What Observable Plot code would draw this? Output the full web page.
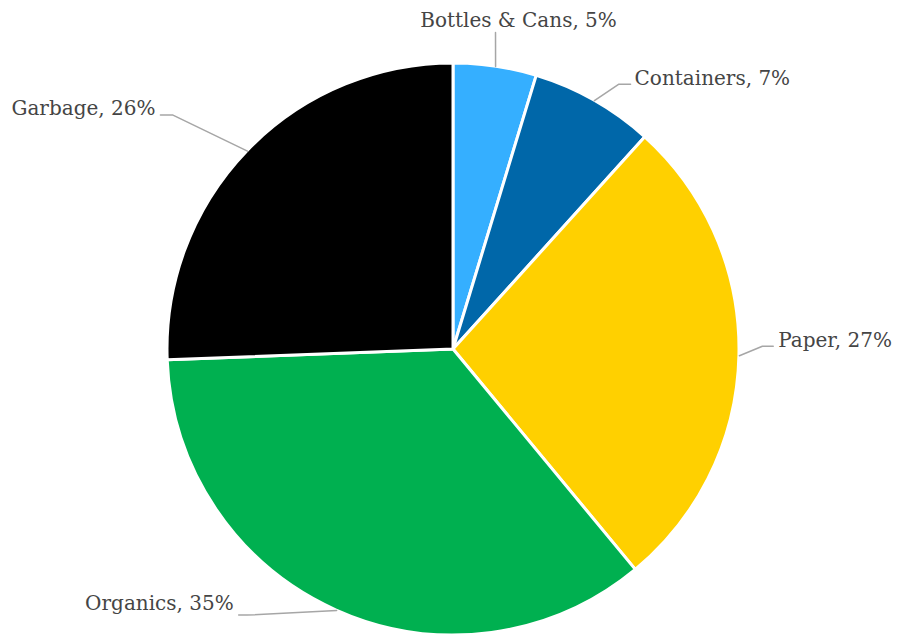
<!DOCTYPE html>
<html><head><meta charset="utf-8">
<script src="https://cdn.jsdelivr.net/npm/d3@7"></script>
<script src="https://cdn.jsdelivr.net/npm/@observablehq/plot@0.6"></script>
<style>body{margin:0;background:#fff}</style>
</head><body><div id="chart"></div>
<script>
// ---- data ----
const categories = ["Bottles & Cans", "Containers", "Paper", "Organics", "Garbage"];
const shares = [4.7, 7.0, 27.3, 35.4, 25.6];
const pctLabels = ["5%", "7%", "27%", "35%", "26%"];
const colors = ["#35AFFF", "#0067A9", "#FFD000", "#00B050", "#000000"];

// ---- label layout (unit-radius coordinates / pixel nudges) ----
const elbowAngleDeg = [7.55, 31.9, 89.4, 217.9, 309.85];
const elbowRadius = [1.118, 1.092, 1.080, 1.177, 1.280];
const tailLen = [0, 0.042, 0.038, -0.028, -0.042];
const textAnchors = ["middle", "start", "start", "end", "end"];
const textDx = [23, 4, 5, -5, -5];
const textDy = [-12, -6, -6, -11.5, -6.5];

const W = 901, H = 635, CX = 453, CY = 349, R = 286;

const pie = d3.pie().sort(null).value(d => d.value)(
  categories.map((c, i) => ({name: c, value: shares[i], i}))
);
const polar = (a, r) => [r * Math.sin(a), r * Math.cos(a)];

const leaders = [];
const labels = [];
pie.forEach((p, i) => {
  const mid = (p.startAngle + p.endAngle) / 2;
  const [ex, ey] = polar(mid, 1);
  const [bx, by] = polar(elbowAngleDeg[i] * Math.PI / 180, elbowRadius[i]);
  const tx = bx + tailLen[i], ty = by;
  leaders.push({k: i, x: ex, y: ey}, {k: i, x: bx, y: by}, {k: i, x: tx, y: ty});
  labels.push({x: tx, y: ty, text: `${categories[i]}, ${pctLabels[i]}`, anchor: textAnchors[i], dx: textDx[i], dy: textDy[i]});
});

const pieMark = (index, scales) => {
  const g = d3.create("svg:g");
  const r = scales.x(1) - scales.x(0);
  const arc = d3.arc().innerRadius(0).outerRadius(r);
  g.attr("transform", `translate(${scales.x(0)},${scales.y(0)})`);
  g.selectAll("path").data(pie).join("path")
    .attr("d", arc)
    .attr("fill", d => colors[d.data.i])
    .attr("stroke", "#fff")
    .attr("stroke-width", 3)
    .attr("stroke-linejoin", "round");
  return g.node();
};

const textMarks = labels.map(l => Plot.text([l], {
  x: "x", y: "y", text: "text", textAnchor: l.anchor, dx: l.dx, dy: l.dy,
  fill: "#454545", fontSize: 20, fontFamily: "DejaVu Serif"
}));

const chart = Plot.plot({
  width: W, height: H,
  margin: 0,
  x: {domain: [-CX / R, (W - CX) / R], range: [0, W], axis: null},
  y: {domain: [-(H - CY) / R, CY / R], range: [H, 0], axis: null},
  marks: [
    pieMark,
    Plot.line(leaders, {x: "x", y: "y", z: "k", stroke: "#A6A6A6", strokeWidth: 1.5}),
    ...textMarks
  ]
});
document.getElementById("chart").append(chart);
</script>
</body></html>
